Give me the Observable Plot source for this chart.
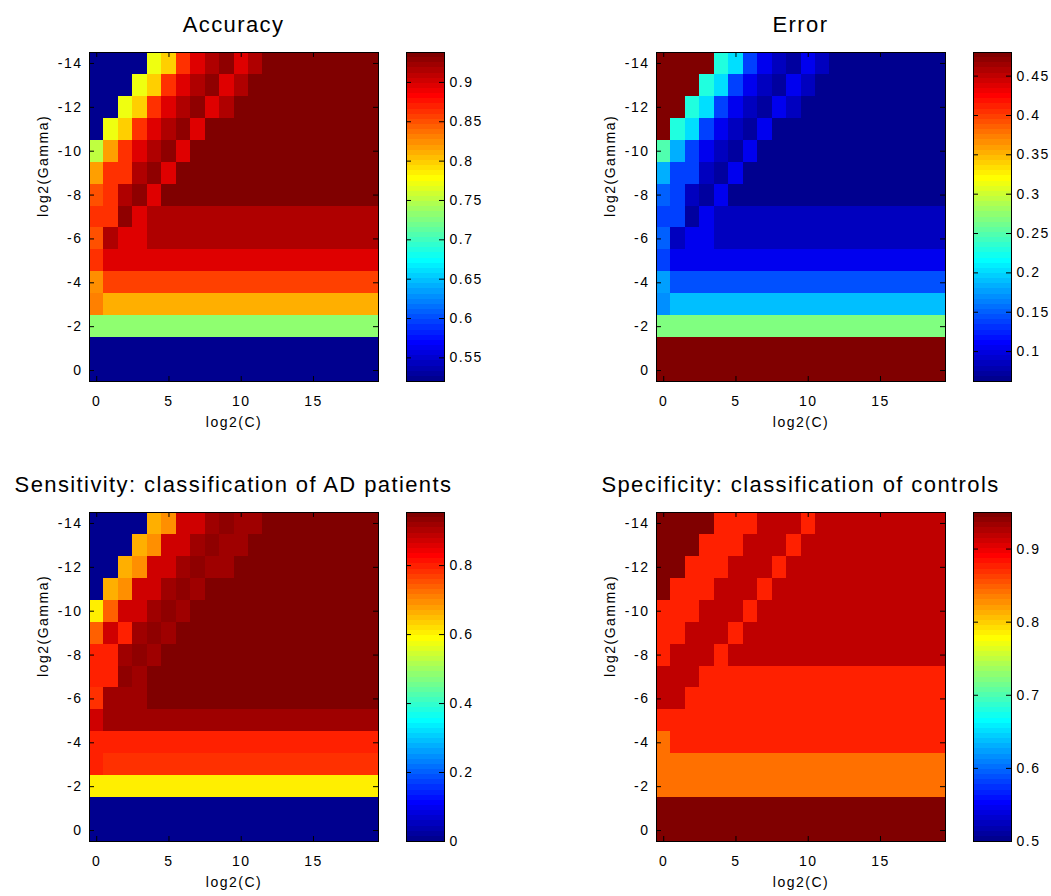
<!DOCTYPE html>
<html><head><meta charset="utf-8">
<script src="https://cdn.jsdelivr.net/npm/d3@7"></script>
<script src="https://cdn.jsdelivr.net/npm/@observablehq/plot@0.6"></script>
<style>
body{margin:0;background:#fff}
#root{position:relative;width:1051px;height:896px;overflow:hidden;background:#fff;font-family:"Liberation Sans",Arial,Helvetica,sans-serif}
#root svg{position:absolute;max-width:none}
.title{position:absolute;width:600px;text-align:center;font-size:22px;line-height:22px;letter-spacing:1.4px;color:#000;white-space:nowrap}
</style></head><body><div id="root"></div>
<script>
// ---- data ----
const logC = [0,1,2,3,4,5,6,7,8,9,10,11,12,13,14,15,16,17,18,19];
const logGamma = [-14,-13,-12,-11,-10,-9,-8,-7,-6,-5,-4,-3,-2,-1,0];
const xTicks = [0,5,10,15];
const yTicks = [-14,-12,-10,-8,-6,-4,-2,0];

const accuracy = [
[.52,.52,.52,.52,.771,.798,.863,.896,.915,.928,.896,.915,.938,.938,.938,.938,.938,.938,.938,.938],
[.52,.52,.52,.771,.798,.863,.896,.915,.928,.896,.915,.938,.938,.938,.938,.938,.938,.938,.938,.938],
[.52,.52,.771,.798,.863,.896,.915,.928,.896,.915,.938,.938,.938,.938,.938,.938,.938,.938,.938,.938],
[.52,.771,.798,.863,.896,.915,.928,.896,.938,.938,.938,.938,.938,.938,.938,.938,.938,.938,.938,.938],
[.752,.817,.863,.896,.915,.928,.896,.938,.938,.938,.938,.938,.938,.938,.938,.938,.938,.938,.938,.938],
[.817,.863,.863,.915,.928,.896,.938,.938,.938,.938,.938,.938,.938,.938,.938,.938,.938,.938,.938,.938],
[.850,.863,.915,.928,.896,.938,.938,.938,.938,.938,.938,.938,.938,.938,.938,.938,.938,.938,.938,.938],
[.863,.863,.928,.896,.915,.915,.915,.915,.915,.915,.915,.915,.915,.915,.915,.915,.915,.915,.915,.915],
[.850,.915,.896,.896,.915,.915,.915,.915,.915,.915,.915,.915,.915,.915,.915,.915,.915,.915,.915,.915],
[.866,.896,.896,.896,.896,.896,.896,.896,.896,.896,.896,.896,.896,.896,.896,.896,.896,.896,.896,.896],
[.824,.857,.857,.857,.857,.857,.857,.857,.857,.857,.857,.857,.857,.857,.857,.857,.857,.857,.857,.857],
[.830,.812,.812,.812,.812,.812,.812,.812,.812,.812,.812,.812,.812,.812,.812,.812,.812,.812,.812,.812],
[.732,.732,.732,.732,.732,.732,.732,.732,.732,.732,.732,.732,.732,.732,.732,.732,.732,.732,.732,.732],
[.52,.52,.52,.52,.52,.52,.52,.52,.52,.52,.52,.52,.52,.52,.52,.52,.52,.52,.52,.52],
[.52,.52,.52,.52,.52,.52,.52,.52,.52,.52,.52,.52,.52,.52,.52,.52,.52,.52,.52,.52]
];

const error = [
[.48,.48,.48,.48,.229,.202,.137,.104,.085,.072,.104,.085,.062,.062,.062,.062,.062,.062,.062,.062],
[.48,.48,.48,.229,.202,.137,.104,.085,.072,.104,.085,.062,.062,.062,.062,.062,.062,.062,.062,.062],
[.48,.48,.229,.202,.137,.104,.085,.072,.104,.085,.062,.062,.062,.062,.062,.062,.062,.062,.062,.062],
[.48,.229,.202,.137,.104,.085,.072,.104,.062,.062,.062,.062,.062,.062,.062,.062,.062,.062,.062,.062],
[.248,.183,.137,.104,.085,.072,.104,.062,.062,.062,.062,.062,.062,.062,.062,.062,.062,.062,.062,.062],
[.183,.137,.137,.085,.072,.104,.062,.062,.062,.062,.062,.062,.062,.062,.062,.062,.062,.062,.062,.062],
[.150,.137,.085,.072,.104,.062,.062,.062,.062,.062,.062,.062,.062,.062,.062,.062,.062,.062,.062,.062],
[.137,.137,.072,.104,.085,.085,.085,.085,.085,.085,.085,.085,.085,.085,.085,.085,.085,.085,.085,.085],
[.150,.085,.104,.104,.085,.085,.085,.085,.085,.085,.085,.085,.085,.085,.085,.085,.085,.085,.085,.085],
[.134,.104,.104,.104,.104,.104,.104,.104,.104,.104,.104,.104,.104,.104,.104,.104,.104,.104,.104,.104],
[.176,.143,.143,.143,.143,.143,.143,.143,.143,.143,.143,.143,.143,.143,.143,.143,.143,.143,.143,.143],
[.170,.188,.188,.188,.188,.188,.188,.188,.188,.188,.188,.188,.188,.188,.188,.188,.188,.188,.188,.188],
[.268,.268,.268,.268,.268,.268,.268,.268,.268,.268,.268,.268,.268,.268,.268,.268,.268,.268,.268,.268],
[.48,.48,.48,.48,.48,.48,.48,.48,.48,.48,.48,.48,.48,.48,.48,.48,.48,.48,.48,.48],
[.48,.48,.48,.48,.48,.48,.48,.48,.48,.48,.48,.48,.48,.48,.48,.48,.48,.48,.48,.48]
];

const sensitivity = [
[0,0,0,0,.663,.693,.872,.872,.917,.931,.917,.917,.954,.954,.954,.954,.954,.954,.954,.954],
[0,0,0,.663,.693,.872,.872,.917,.931,.917,.917,.954,.954,.954,.954,.954,.954,.954,.954,.954],
[0,0,.663,.693,.872,.872,.917,.931,.917,.917,.954,.954,.954,.954,.954,.954,.954,.954,.954,.954],
[0,.663,.693,.872,.872,.917,.931,.917,.954,.954,.954,.954,.954,.954,.954,.954,.954,.954,.954,.954],
[.604,.738,.872,.872,.917,.931,.917,.954,.954,.954,.954,.954,.954,.954,.954,.954,.954,.954,.954,.954],
[.738,.872,.797,.917,.931,.917,.954,.954,.954,.954,.954,.954,.954,.954,.954,.954,.954,.954,.954,.954],
[.797,.797,.917,.931,.917,.954,.954,.954,.954,.954,.954,.954,.954,.954,.954,.954,.954,.954,.954,.954],
[.797,.797,.931,.917,.954,.954,.954,.954,.954,.954,.954,.954,.954,.954,.954,.954,.954,.954,.954,.954],
[.783,.917,.917,.917,.954,.954,.954,.954,.954,.954,.954,.954,.954,.954,.954,.954,.954,.954,.954,.954],
[.872,.917,.917,.917,.917,.917,.917,.917,.917,.917,.917,.917,.917,.917,.917,.917,.917,.917,.917,.917],
[.797,.797,.797,.797,.797,.797,.797,.797,.797,.797,.797,.797,.797,.797,.797,.797,.797,.797,.797,.797],
[.797,.783,.783,.783,.783,.783,.783,.783,.783,.783,.783,.783,.783,.783,.783,.783,.783,.783,.783,.783],
[.604,.604,.604,.604,.604,.604,.604,.604,.604,.604,.604,.604,.604,.604,.604,.604,.604,.604,.604,.604],
[0,0,0,0,0,0,0,0,0,0,0,0,0,0,0,0,0,0,0,0],
[0,0,0,0,0,0,0,0,0,0,0,0,0,0,0,0,0,0,0,0]
];

const specificity = [
[.95,.95,.95,.95,.876,.876,.876,.918,.918,.918,.876,.918,.918,.918,.918,.918,.918,.918,.918,.918],
[.95,.95,.95,.876,.876,.876,.918,.918,.918,.876,.918,.918,.918,.918,.918,.918,.918,.918,.918,.918],
[.95,.95,.876,.876,.876,.918,.918,.918,.876,.918,.918,.918,.918,.918,.918,.918,.918,.918,.918,.918],
[.95,.876,.876,.876,.918,.918,.918,.876,.918,.918,.918,.918,.918,.918,.918,.918,.918,.918,.918,.918],
[.876,.876,.876,.918,.918,.918,.876,.918,.918,.918,.918,.918,.918,.918,.918,.918,.918,.918,.918,.918],
[.876,.876,.918,.918,.918,.876,.918,.918,.918,.918,.918,.918,.918,.918,.918,.918,.918,.918,.918,.918],
[.876,.918,.918,.918,.876,.918,.918,.918,.918,.918,.918,.918,.918,.918,.918,.918,.918,.918,.918,.918],
[.918,.918,.918,.876,.876,.876,.876,.876,.876,.876,.876,.876,.876,.876,.876,.876,.876,.876,.876,.876],
[.918,.918,.876,.876,.876,.876,.876,.876,.876,.876,.876,.876,.876,.876,.876,.876,.876,.876,.876,.876],
[.876,.876,.876,.876,.876,.876,.876,.876,.876,.876,.876,.876,.876,.876,.876,.876,.876,.876,.876,.876],
[.841,.876,.876,.876,.876,.876,.876,.876,.876,.876,.876,.876,.876,.876,.876,.876,.876,.876,.876,.876],
[.841,.841,.841,.841,.841,.841,.841,.841,.841,.841,.841,.841,.841,.841,.841,.841,.841,.841,.841,.841],
[.841,.841,.841,.841,.841,.841,.841,.841,.841,.841,.841,.841,.841,.841,.841,.841,.841,.841,.841,.841],
[.95,.95,.95,.95,.95,.95,.95,.95,.95,.95,.95,.95,.95,.95,.95,.95,.95,.95,.95,.95],
[.95,.95,.95,.95,.95,.95,.95,.95,.95,.95,.95,.95,.95,.95,.95,.95,.95,.95,.95,.95]
];

const accDomain = [0.52, 0.938], accTicks = [0.55,0.6,0.65,0.7,0.75,0.8,0.85,0.9];
const errDomain = [0.062, 0.48], errTicks = [0.1,0.15,0.2,0.25,0.3,0.35,0.4,0.45];
const senDomain = [0, 0.954], senTicks = [0,0.2,0.4,0.6,0.8];
const speDomain = [0.5, 0.95], speTicks = [0.5,0.6,0.7,0.8,0.9];

const titles = ["Accuracy", "Error", "Sensitivity: classification of AD patients", "Specificity: classification of controls"];

// ---- MATLAB jet(64) colormap ----
function matlabJet(m) {
  const n = Math.ceil(m / 4);
  const u = [];
  for (let i = 1; i <= n; i++) u.push(i / n);
  for (let i = 0; i < n - 1; i++) u.push(1);
  for (let i = n; i >= 1; i--) u.push(i / n);
  const off = Math.ceil(n / 2) - (m % 4 === 1 ? 1 : 0);
  const g = u.map((_, i) => off + i + 1);
  const r = g.map(v => v + n), b = g.map(v => v - n);
  const J = Array.from({length: m}, () => [0, 0, 0]);
  g.filter(v => v <= m).forEach((idx, i) => J[idx - 1][1] = u[i]);
  r.filter(v => v <= m).forEach((idx, i) => J[idx - 1][0] = u[i]);
  const bk = b.filter(v => v >= 1);
  bk.forEach((idx, i) => J[idx - 1][2] = u[u.length - bk.length + i]);
  return J;
}
const JET = matlabJet(64);
const jetInterp = t => {
  const k = Math.max(0, Math.min(63, Math.floor(t * 64)));
  const c = JET[k];
  return `rgb(${Math.round(c[0]*255)},${Math.round(c[1]*255)},${Math.round(c[2]*255)})`;
};

const FONT = '"Liberation Sans", Arial, Helvetica, sans-serif';
const W = 289, H = 329, TOPM = 52, SVGH = 450;
const baseStyle = {fontFamily: FONT, fontSize: "14px", letterSpacing: "1.5px", background: "none", overflow: "visible", color: "#000"};

function heatmap(values, domain, mL) {
  const cells = [];
  logGamma.forEach((g, i) => logC.forEach((c, j) => cells.push({c, g, v: values[i][j]})));
  return Plot.plot({
    width: mL + W + 20, height: SVGH,
    marginLeft: mL, marginRight: 20, marginTop: TOPM, marginBottom: SVGH - TOPM - H,
    style: baseStyle,
    x: {domain: [-0.5, 19.5]},
    y: {domain: [-14.5, 0.5], reverse: true},
    color: {type: "linear", domain, interpolate: jetInterp, clamp: true},
    marks: [
      Plot.rect(cells, {x1: d => d.c - 0.5, x2: d => d.c + 0.5, y1: d => d.g - 0.5, y2: d => d.g + 0.5, fill: "v", shapeRendering: "crispEdges"}),
      Plot.frame({stroke: "#000"}),
      Plot.tickX(xTicks, {x: d => d, insetTop: H - 5, stroke: "#000"}),
      Plot.tickX(xTicks, {x: d => d, insetBottom: H - 5, stroke: "#000"}),
      Plot.tickY(yTicks, {y: d => d, insetRight: W - 5, stroke: "#000"}),
      Plot.tickY(yTicks, {y: d => d, insetLeft: W - 5, stroke: "#000"}),
      Plot.axisX(xTicks, {anchor: "bottom", tickSize: 0, tickPadding: 15, tickFormat: d => String(d), label: null}),
      Plot.axisY(yTicks, {anchor: "left", tickSize: 0, tickPadding: 7, tickFormat: d => String(d), label: null}),
      Plot.text(["log2(C)"], {frameAnchor: "bottom", dy: 45, text: d => d}),
      Plot.text(["log2(Gamma)"], {frameAnchor: "left", dx: -46, rotate: -90, text: d => d})
    ]
  });
}

function colorbar(domain, ticks, mL) {
  const [lo, hi] = domain;
  const CW = 38;
  const steps = d3.range(64).map(i => ({a: lo + (hi - lo) * i / 64, b: lo + (hi - lo) * (i + 1) / 64}));
  return Plot.plot({
    width: mL + CW + 80, height: SVGH,
    marginLeft: mL, marginRight: 80, marginTop: TOPM, marginBottom: SVGH - TOPM - H,
    style: baseStyle,
    y: {domain: [lo, hi]},
    color: {type: "linear", domain, interpolate: jetInterp, clamp: true},
    marks: [
      Plot.rect(steps, {y1: "a", y2: "b", fill: d => (d.a + d.b) / 2, shapeRendering: "crispEdges"}),
      Plot.frame({stroke: "#000"}),
      Plot.tickY(ticks, {y: d => d, insetRight: CW - 5, stroke: "#000"}),
      Plot.tickY(ticks, {y: d => d, insetLeft: CW - 5, stroke: "#000"}),
      Plot.axisY(ticks, {anchor: "right", tickSize: 0, tickPadding: 5, tickFormat: d => String(d), label: null})
    ]
  });
}

const root = document.getElementById("root");
function place(el, left, top) { el.style.left = left + "px"; el.style.top = top + "px"; root.appendChild(el); }

const panels = [
  {values: accuracy, domain: accDomain, ticks: accTicks, left: 0, mL: 89, cbLeft: 400, cbML: 6, top: 0, title: titles[0], cx: 233.5},
  {values: error, domain: errDomain, ticks: errTicks, left: 525, mL: 131, cbLeft: 965, cbML: 8, top: 0, title: titles[1], cx: 800.5},
  {values: sensitivity, domain: senDomain, ticks: senTicks, left: 0, mL: 89, cbLeft: 400, cbML: 6, top: 460, title: titles[2], cx: 233.5},
  {values: specificity, domain: speDomain, ticks: speTicks, left: 525, mL: 131, cbLeft: 965, cbML: 8, top: 460, title: titles[3], cx: 800.5}
];
for (const p of panels) {
  place(heatmap(p.values, p.domain, p.mL), p.left, p.top);
  place(colorbar(p.domain, p.ticks, p.cbML), p.cbLeft, p.top);
  const t = document.createElement("div");
  t.className = "title";
  t.textContent = p.title;
  t.style.left = (p.cx - 300) + "px";
  t.style.top = (p.top + 14) + "px";
  root.appendChild(t);
}
</script></body></html>
